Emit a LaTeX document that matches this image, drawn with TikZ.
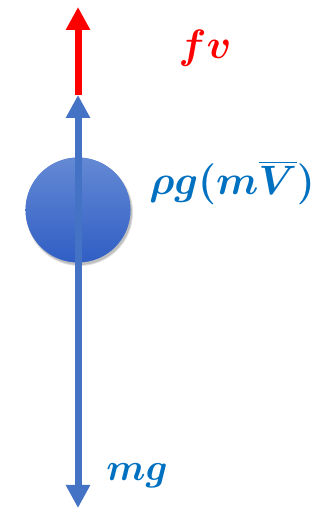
\documentclass[tikz,border=0pt]{standalone}
\usepackage{fix-cm}
\usepackage{amsmath,bm}
\usetikzlibrary{arrows.meta}
\definecolor{arrowblue}{RGB}{68,114,196}
\definecolor{labelblue}{RGB}{0,112,192}
\definecolor{ballTop}{RGB}{100,137,212}
\definecolor{ballMid}{RGB}{72,114,204}
\definecolor{ballBot}{RGB}{48,94,196}
\begin{document}
\begin{tikzpicture}[x=1pt,y=1pt,
  force/.style={line width=7pt,-{Triangle[width=23pt,length=23pt]}},
  lbl/.style={font=\fontsize{41}{48}\selectfont,inner sep=0pt}]
\useasboundingbox (0,0) rectangle (325,510);
\fill[black,opacity=0.12] (79.5,297.5) circle (53.5pt);
\fill[black,opacity=0.15] (79.5,297.5) circle (52.5pt);
\node[circle,minimum size=105pt,inner sep=0pt,fill=ballMid] (ball) at (78,300) {};
\shade[top color=ballTop,bottom color=ballBot,shading angle=0] (ball.center) circle (52.3pt);
\coordinate (bot) at (78,2);
\coordinate (top) at (78,415);
\coordinate (redtip) at (78,503);
\draw[force,arrowblue,{Triangle[width=23pt,length=23pt]}-{Triangle[width=23pt,length=23pt]}] (bot) -- (top);
\draw[force,red] (top) -- (redtip);
\node[lbl,text=red] (fv) at (205,462) {$\bm{fv}$};
\node[lbl,text=labelblue] (buoy) at (232,327) {$\bm{\rho g(m\overline{V})}$};
\node[lbl,text=labelblue,font=\fontsize{38}{44}\selectfont] (mg) at (137,34) {$\bm{mg}$};
\end{tikzpicture}
\end{document}
